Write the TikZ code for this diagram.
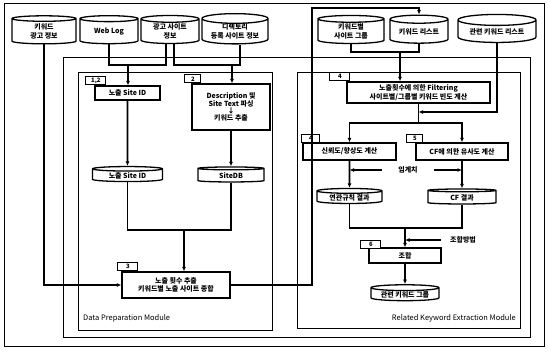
\documentclass[tikz,border=0pt]{standalone}
\usepackage{fontspec}
\setmainfont{Noto Sans CJK KR}
\newfontfamily\kr{Noto Sans CJK KR}
\usetikzlibrary{shapes.geometric, arrows.meta, positioning, calc}

\begin{document}
\begin{tikzpicture}[x=1pt, y=-1pt,
	proc/.style={draw, line width=1.3pt, fill=white, align=center, inner sep=1pt, font=\kr\fontsize{7}{8.5}\selectfont\bfseries},
	tagbox/.style={draw, line width=1.1pt, fill=white, minimum width=20, minimum height=8, inner sep=0pt, font=\kr\fontsize{6}{6}\selectfont\bfseries},
	store/.style={draw, line width=1.3pt, cylinder, shape border rotate=90, aspect=0.12, fill=white, align=center, inner sep=0pt, font=\kr\fontsize{7}{8.5}\selectfont\bfseries},
	link/.style={line width=1.6pt},
	flow/.style={line width=1.6pt, -{Latex[length=4.5pt,width=4pt]}},
	frame/.style={line width=0.6pt},
	note/.style={font=\kr\fontsize{7}{8}\selectfont\bfseries, inner sep=1pt},
	modlabel/.style={font=\kr\fontsize{7.5}{8}\selectfont, anchor=west, inner sep=0pt}]
	\useasboundingbox (0,0) rectangle (548,351);

	% Frames
	\draw[line width=1pt] (4,3) rectangle (544,346);
	\draw[frame] (63,57) rectangle (530,337);
	\draw[frame] (78,72) rectangle (272,330);
	\draw[frame] (297,72) rectangle (520,328);
	\node[modlabel] (dpm) at (83,318) {Data Preparation Module};
	\node[modlabel, anchor=east] (rkm) at (516,318) {Related Keyword Extraction Module};

	% Data sources on top
	\node[store, aspect=0.2, minimum width=64, minimum height=28] (c1) at (44,31.5) {키워드\\광고 정보};
	\node[store, aspect=0.2, minimum width=58, minimum height=28] (c2) at (109,31.5) {Web Log};
	\node[store, aspect=0.2, minimum width=58, minimum height=28] (c3) at (170,31.5) {광고 사이트\\정보};
	\node[store, aspect=0.2, minimum width=66, minimum height=28] (c4) at (235,31.5) {디렉토리\\등록 사이트 정보};
	\node[store, aspect=0.2, minimum width=66, minimum height=28] (c5) at (351,31.5) {키워드별\\사이트 그룹};
	\node[store, aspect=0.2, minimum width=58, minimum height=28] (c6) at (419,31.5) {키워드 리스트};
	\node[store, aspect=0.2, minimum width=78, minimum height=28] (c7) at (497,31.5) {관련 키워드 리스트};

	% Data Preparation Module
	\node[proc, minimum width=65, minimum height=14] (b12) at (127.5,93) {노출 Site ID};
	\node[proc, minimum width=78, minimum height=46] (b2) at (231,107) {Description 및\\Site Text 파싱\\[-2pt]↓\\[-1pt]키워드 추출};
	\node[store, minimum width=70, minimum height=15] (s1) at (127.5,175.5) {노출 Site ID};
	\node[store, minimum width=66, minimum height=15] (sdb) at (231,175.5) {SiteDB};
	\node[proc, minimum width=108, minimum height=26] (b3) at (176,285) {노출 횟수 추출\\키워드별 노출 사이트 종합};
	\node[tagbox, anchor=south west] (t12) at ([xshift=-9pt]b12.north west) {1,2};
	\node[tagbox, minimum width=16, anchor=south west] (t2) at ([xshift=-7pt]b2.north west) {2};
	\node[tagbox, anchor=south west] (t3) at ([xshift=-4pt]b3.north west) {3};

	% Related Keyword Extraction Module
	\node[proc, minimum width=143, minimum height=21] (b4) at (418.5,92.5) {노출횟수에 의한 Filtering\\사이트별/그룹별 키워드 빈도 계산};
	\node[proc, minimum width=93, minimum height=17] (b4b) at (349.5,151.5) {신뢰도/향상도 계산};
	\node[proc, minimum width=92, minimum height=17] (b5) at (462,151.5) {CF에 의한 유사도 계산};
	\node[store, minimum width=65, minimum height=15] (r1) at (349.5,197.5) {연관규칙 결과};
	\node[store, minimum width=68, minimum height=15] (r2) at (462,197.5) {CF 결과};
	\node[proc, minimum width=72, minimum height=15] (b6) at (405,255.5) {조합};
	\node[store, minimum width=68, minimum height=15] (fin) at (405,294.5) {관련 키워드 그룹};
	\node[tagbox, anchor=south west] (t4) at ([xshift=-17pt]b4.north west) {4};
	\node[tagbox, minimum width=18, anchor=south west] (t4b) at ([xshift=-1pt,yshift=-1pt]b4b.north west) {4};
	\node[tagbox, minimum width=16, anchor=south west] (t5) at ([xshift=-9pt,yshift=-1pt]b5.north west) {5};
	\node[tagbox, anchor=south west] (t6) at ([xshift=-8pt,yshift=-2pt]b6.north west) {6};
	\node[note] (thr) at (408,170) {임계치};
	\node[note] (cmb) at (463,240) {조합방법};

	% Junctions
	\coordinate (m1) at (128,65);
	\coordinate (m2) at (232,65);
	\coordinate (m3) at (184,230);
	\coordinate (up) at (312,8);
	\coordinate (m4) at (400,52);
	\coordinate (m5) at (418.5,112);
	\coordinate (m6) at (418.5,123);
	\coordinate (m7) at (405,228);
	\coordinate (thl) at (382,170);
	\coordinate (thr2) at (434,170);
	\coordinate (cml) at (441,240);

	% Connectors
	\draw[link] (c2.south) |- (m1) -| ([xshift=-4pt]c3.south);
	\draw[flow] (m1) -- (m1 |- b12.north);
	\draw[link] ([xshift=4pt]c3.south) |- (m2) -| ([xshift=5pt]c4.south);
	\draw[flow] (m2) -- (m2 |- b2.north);
	\draw[flow] (c1.south) |- (b3.west);
	\draw[flow] (b12.south) -- (s1.north);
	\draw[flow] (b2.south) -- (sdb.north);
	\draw[link] (s1.south) |- (m3) -| (sdb.south);
	\draw[flow] (m3) -- (m3 |- b3.north);
	\draw[flow] (b3.east) -| (up) -| (c6.north);
	\draw[link] (c5.south) |- (m4) -| (c6.south);
	\draw[flow] (m4) -- (m4 |- b4.north);
	\draw[flow] (c7.south) |- (m5);
	\draw[link] (b4.south) -- (m6);
	\draw[flow] (m6) -| (b4b.north);
	\draw[flow] (m6) -| (b5.north);
	\draw[flow] (thl) -- (thl -| b4b.south);
	\draw[flow] (thr2) -- (thr2 -| b5.south);
	\draw[flow] (b4b.south) -- (r1.north);
	\draw[flow] (b5.south) -- (r2.north);
	\draw[link] (r1.south) |- (m7) -| (r2.south);
	\draw[flow] (m7) -- (m7 |- b6.north);
	\draw[flow] (cml) -- (cml -| m7);
	\draw[flow] (b6.south) -- (fin.north);
\end{tikzpicture}
\end{document}
